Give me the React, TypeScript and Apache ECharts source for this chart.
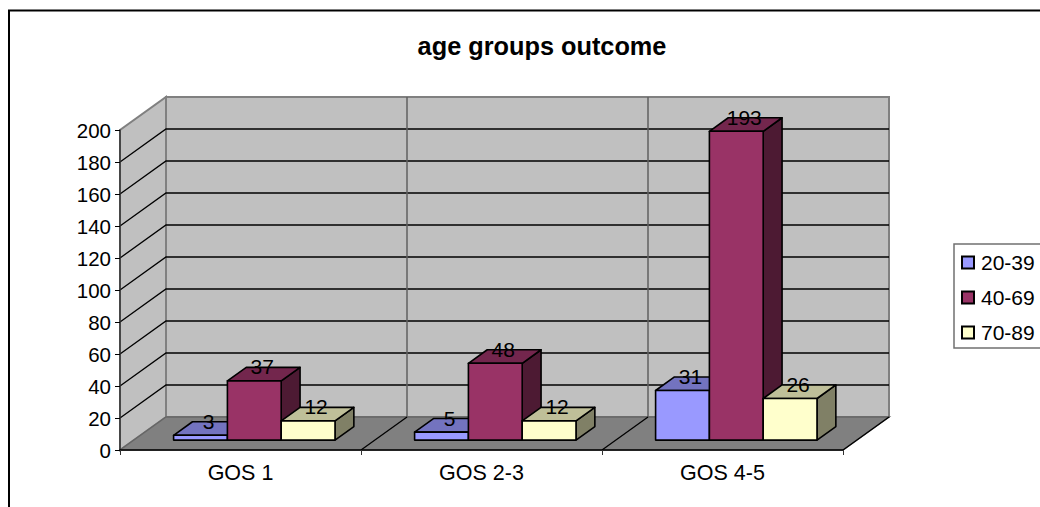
import React, { useEffect, useRef } from "react";
import * as echarts from "echarts";

const categories = ["GOS 1", "GOS 2-3", "GOS 4-5"];
const seriesNames = ["20-39", "40-69", "70-89"];
const values2039 = [3, 5, 31];
const values4069 = [37, 48, 193];
const values7089 = [12, 12, 26];
const yTicks = [0, 20, 40, 60, 80, 100, 120, 140, 160, 180, 200];

const FONT = '"Liberation Sans", Arial, sans-serif';
const W = 1040, H = 507;
const GRID = { left: 120, top: 130, width: 723, height: 320 };
const DX = 46, DY = 33;
const BAR_FRAC = 53.8 / 241;
const BAR_FRONT = 0.3, BAR_DEPTH = 0.41;

const palette = [
  { front: "#9999FF", top: "#7373BF", side: "#4D4D80" },
  { front: "#993366", top: "#73264D", side: "#4D1A33" },
  { front: "#FFFFCC", top: "#BFBF99", side: "#808066" },
];

function backdrop(params: any, api: any) {
  const cs = params.coordSys;
  const x0 = cs.x, x1 = cs.x + cs.width;
  const y0 = api.coord([0, 0])[1], yT = api.coord([0, 200])[1];
  const band = api.size([1, 0])[0];
  const gray = { stroke: "#808080", lineWidth: 2 };
  const dark = { stroke: "#000000", lineWidth: 1.3 };
  const children: any[] = [
    { type: "polygon", shape: { points: [[x0, y0], [x0 + DX, y0 - DY], [x0 + DX, yT - DY], [x0, yT]] }, style: { fill: "#C0C0C0", ...gray } },
    { type: "rect", shape: { x: x0 + DX, y: yT - DY, width: cs.width, height: y0 - yT }, style: { fill: "#C0C0C0", ...gray } },
  ];
  yTicks.slice(1, -1).forEach((t) => {
    const y = api.coord([0, t])[1];
    children.push({ type: "polyline", shape: { points: [[x0, y], [x0 + DX, y - DY], [x1 + DX, y - DY]] }, style: { fill: "none", ...dark } });
  });
  const yTop = api.coord([0, 200])[1];
  children.push({ type: "line", shape: { x1: x0 + DX, y1: yTop - DY, x2: x1 + DX, y2: yTop - DY }, style: gray });
  children.push({ type: "polygon", shape: { points: [[x0, y0], [x1, y0], [x1 + DX, y0 - DY], [x0 + DX, y0 - DY]] }, style: { fill: "#808080", stroke: "#666666", lineWidth: 1.5 } });
  categories.slice(1).forEach((_, i) => {
    const x = x0 + band * (i + 1);
    children.push({ type: "line", shape: { x1: x + DX, y1: y0 - DY, x2: x + DX, y2: yT - DY }, style: { stroke: "#606060", lineWidth: 1.5 } });
    children.push({ type: "line", shape: { x1: x, y1: y0, x2: x + DX, y2: y0 - DY }, style: dark });
  });
  children.push({ type: "line", shape: { x1: x1, y1: y0, x2: x1 + DX, y2: y0 - DY }, style: dark });
  return { type: "group", children };
}

function bar3d(si: number) {
  return (_params: any, api: any) => {
    const idx = api.value(0), v = api.value(1);
    const band = api.size([1, 0])[0];
    const w = band * BAR_FRAC;
    const c = api.coord([idx, 0]);
    const t = api.coord([idx, v]);
    const ox = DX * BAR_FRONT, oy = DY * BAR_FRONT;
    const dx = DX * BAR_DEPTH, dy = DY * BAR_DEPTH;
    const l = c[0] + ox + (si - 1.5) * w;
    const r = l + w;
    const b = c[1] - oy;
    const top = t[1] - oy;
    const p = palette[si];
    const line = { stroke: "#000000", lineWidth: 1.6, lineJoin: "round" };
    return {
      type: "group",
      children: [
        { type: "polygon", shape: { points: [[r, b], [r + dx, b - dy], [r + dx, top - dy], [r, top]] }, style: { fill: p.side, ...line } },
        { type: "polygon", shape: { points: [[l, top], [r, top], [r + dx, top - dy], [l + dx, top - dy]] }, style: { fill: p.top, ...line } },
        { type: "rect", shape: { x: l, y: top, width: w, height: b - top }, style: { fill: p.front, ...line } },
        { type: "text", z2: 50, style: { text: String(v), x: (l + r) / 2 + 8, y: top - 14, align: "center", verticalAlign: "middle", font: `21px ${FONT}`, fill: "#000000" } },
      ],
    };
  };
}

export default function App() {
  const ref = useRef<HTMLDivElement>(null);
  useEffect(() => {
    document.body.style.margin = "0";
    const chart = echarts.init(ref.current!, undefined, { renderer: "svg" });
    const groups = [values2039, values4069, values7089];
    chart.setOption({
      animation: false,
      backgroundColor: "#FFFFFF",
      textStyle: { fontFamily: FONT },
      title: {
        text: "age groups outcome",
        left: 537,
        top: 28,
        textAlign: "center",
        textStyle: { fontFamily: FONT, fontSize: 25.3, fontWeight: "bold", color: "#000000" },
      },
      graphic: [
        { type: "rect", shape: { x: 9, y: 10.5, width: W + 20, height: H + 20 }, style: { fill: "none", stroke: "#000000", lineWidth: 2 }, silent: true },
      ],
      legend: {
        orient: "vertical",
        left: 954,
        top: 244,
        data: seriesNames,
        icon: "rect",
        itemWidth: 12,
        itemHeight: 12,
        itemGap: 14,
        padding: [8, 30, 5, 7],
        backgroundColor: "#FFFFFF",
        borderColor: "#707070",
        borderWidth: 1.5,
        selectedMode: false,
        textStyle: { fontFamily: FONT, fontSize: 21, color: "#000000", padding: [0, 0, 0, 2] },
      },
      grid: { ...GRID, containLabel: false },
      xAxis: {
        type: "category",
        data: categories,
        z: 10,
        axisLine: { lineStyle: { color: "#000000", width: 1.5 } },
        axisTick: { show: true, length: 5, alignWithLabel: false, lineStyle: { color: "#333333", width: 1 } },
        axisLabel: { fontFamily: FONT, fontSize: 21.5, color: "#000000", margin: 12, interval: 0 },
        splitLine: { show: false },
      },
      yAxis: {
        type: "value",
        min: 0,
        max: 200,
        interval: 20,
        z: 10,
        axisLine: { show: true, lineStyle: { color: "#333333", width: 1.5 } },
        axisTick: { show: true, length: 5, lineStyle: { color: "#000000", width: 1 } },
        axisLabel: { fontFamily: FONT, fontSize: 20.5, color: "#000000", margin: 9 },
        splitLine: { show: false },
      },
      series: [
        { type: "custom", name: "__walls", silent: true, z: 1, clip: false, data: [[0, 0]], encode: { x: 0, y: 1 }, renderItem: backdrop },
        ...groups.map((vals, si) => ({
          type: "custom",
          name: seriesNames[si],
          z: 3 + si,
          silent: true,
          clip: false,
          itemStyle: { color: palette[si].front, borderColor: "#000000", borderWidth: 1.5 },
          encode: { x: 0, y: 1 },
          data: vals.map((v, i) => [i, v]),
          renderItem: bar3d(si),
        })),
      ],
    });
    return () => chart.dispose();
  }, []);
  return <div ref={ref} style={{ position: "fixed", left: 0, top: 0, width: W, height: H }} />;
}
